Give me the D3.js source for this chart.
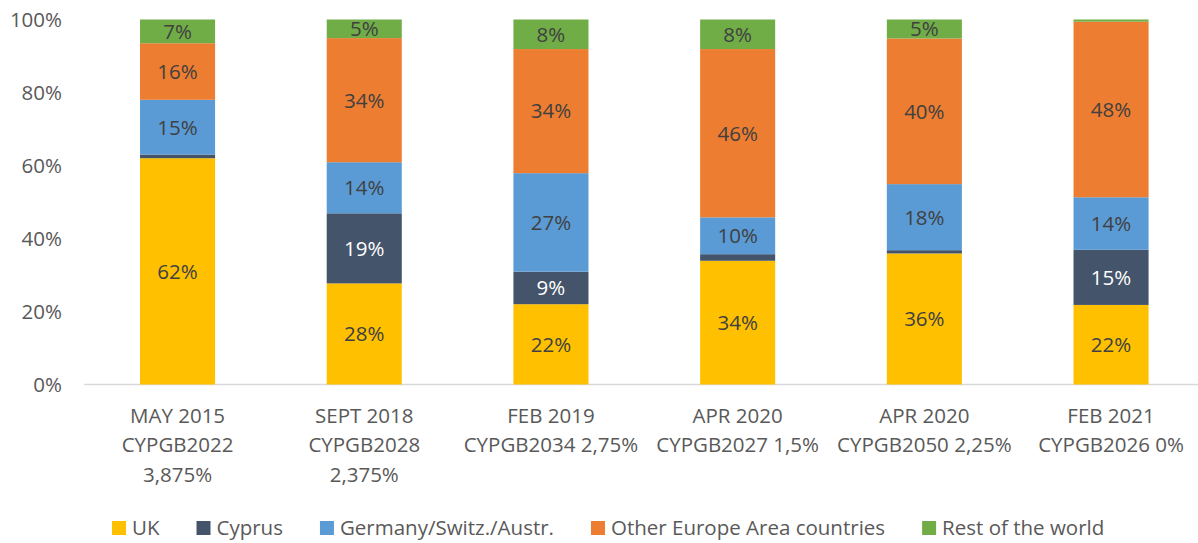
<!DOCTYPE html>
<html><head><meta charset="utf-8">
<script src="https://cdn.jsdelivr.net/npm/d3@7"></script>
<style>body{margin:0;background:#fff}svg{display:block;font-family:"Open Sans",sans-serif}</style>
</head><body><svg id="c" width="1198" height="543"></svg>
<script>
const categories = [
  ["MAY 2015","CYPGB2022","3,875%"],
  ["SEPT 2018","CYPGB2028","2,375%"],
  ["FEB 2019","CYPGB2034 2,75%"],
  ["APR 2020","CYPGB2027 1,5%"],
  ["APR 2020","CYPGB2050 2,25%"],
  ["FEB 2021","CYPGB2026 0%"]
];
const seriesNames = ["UK","Cyprus","Germany/Switz./Austr.","Other Europe Area countries","Rest of the world"];
const uk      = [62.0, 27.7, 22.0, 33.9, 35.9, 21.8];
const cyprus  = [1.0, 19.2, 8.9, 1.8, 0.9, 15.1];
const germany = [15.0, 14.0, 27.0, 10.1, 18.1, 14.4];
const otherEu = [15.5, 34.0, 34.0, 46.1, 39.9, 48.1];
const rest    = [6.5, 5.1, 8.1, 8.1, 5.2, 0.6];
const yTicks = [0, 20, 40, 60, 80, 100];
const colors = ["#FFC000","#44546A","#5B9BD5","#ED7D31","#70AD47"];
const labelColors = ["#404040","#FFFFFF","#404040","#404040","#404040"];

const svg = d3.select("#c");
const series = [uk, cyprus, germany, otherEu, rest];
const rows = categories.map((c,i)=>{const r={i}; seriesNames.forEach((s,k)=>r[s]=series[k][i]); return r;});
const stack = d3.stack().keys(seriesNames)(rows);

const x = d3.scaleBand().domain(d3.range(categories.length)).range([84.2, 1204.4]).paddingInner(0.598).paddingOuter(0.299);
const y = d3.scaleLinear().domain([0,100]).range([384.5, 19.5]);

// baseline
svg.append("line").attr("x1",84.2).attr("x2",1198).attr("y1",y(0)).attr("y2",y(0))
  .attr("stroke","#D9D9D9").attr("stroke-width",1.3);

// y axis labels
const yAxis = d3.axisLeft(y).tickValues(yTicks).tickFormat(d=>d+"%").tickSize(0).tickPadding(0);
const ga = svg.append("g").attr("transform","translate(62,0)").call(yAxis);
ga.select(".domain").remove();
ga.selectAll("text").attr("font-size",20.5).attr("fill","#595959").attr("font-family","Open Sans").attr("dy","0.35em");

// bars
stack.forEach((layer,k)=>{
  const g = svg.append("g");
  g.selectAll("rect").data(layer).join("rect")
    .attr("x",(d,i)=>x(i)).attr("width",x.bandwidth())
    .attr("y",d=>y(d[1])).attr("height",d=>y(d[0])-y(d[1]))
    .attr("fill",colors[k]);
  g.selectAll("text").data(layer.filter(d=>d[1]-d[0]>=3)).join("text")
    .attr("x",d=>x(d.data.i)+x.bandwidth()/2).attr("y",d=>y((d[0]+d[1])/2))
    .attr("dy","0.36em").attr("text-anchor","middle").attr("font-size",20.5)
    .attr("fill",labelColors[k]).text(d=>Math.round(d[1]-d[0])+"%");
});

// category labels
const gx = svg.append("g");
categories.forEach((lines,i)=>{
  const t = gx.append("text").attr("text-anchor","middle").attr("font-size",20.5).attr("fill","#595959");
  lines.forEach((l,j)=>t.append("tspan").attr("x",x(i)+x.bandwidth()/2).attr("y",y(0)+38+j*29.5).text(l));
});

// legend
const lg = svg.append("g").attr("transform","translate(112,528)");
let lx = 0;
seriesNames.forEach((s,k)=>{
  const it = lg.append("g").attr("transform",`translate(${lx},0)`);
  it.append("rect").attr("x",0).attr("y",-7).attr("width",14).attr("height",14).attr("fill",colors[k]);
  const t = it.append("text").attr("x",20).attr("dy","0.35em").attr("font-size",20.5).attr("fill","#595959").text(s);
  lx += 20 + t.node().getComputedTextLength() + 37;
});
</script></body></html>
